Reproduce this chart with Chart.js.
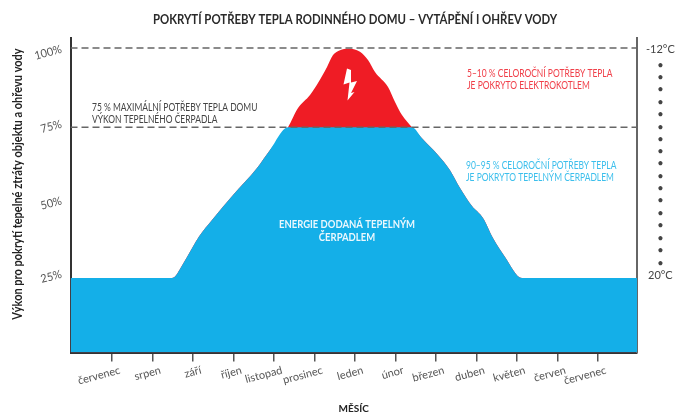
<!DOCTYPE html>
<html><head><meta charset="utf-8">
<style>html,body{margin:0;padding:0;background:#fff}canvas{display:block}</style>
<script src="https://cdn.jsdelivr.net/npm/chart.js@4"></script>
</head><body><canvas id="c" width="685" height="412"></canvas>
<script>
const months = ["červenec","srpen","září","říjen","listopad","prosinec","leden","únor","březen","duben","květen","červen","červenec"];
const yTickValues = [25.8, 49.9, 75.1, 99.7];
const yTickLabels = ["25%","50%","75%","100%"];
const tempTicks = [-12,-9.7,-8,-6.3,-4.5,-2.8,-1,0.7,2.5,4.2,6,7.7,9.4,11.2,12.9,14.7,16.4,18.2,20];
const tempLabels = ["-12°C","•","•","•","•","•","•","•","•","•","•","•","•","•","•","•","•","•","20°C"];
const curveX = [-1.025,1.457,1.556,1.679,1.852,2.148,2.469,2.988,3.580,3.901,4.346,4.593,4.889,5.086,5.309,5.457,5.630,5.827,6.123,6.321,6.494,6.815,6.988,7.160,7.407,7.654,8.049,8.346,8.593,8.889,9.160,9.407,9.704,10.123,12.963];
const demand = [24.47,24.47,24.96,27.42,31.36,38.1,43.5,51.7,60.6,66.5,74,80.3,84.6,88.5,93.8,97.7,99.3,99.8,98.8,96.06,92.1,87.2,82.3,78,74,70.4,64.9,59.9,54,48.1,44.2,37.6,31.4,24.47,24.47];
const heatPumpLimit = 74;
const maxLine = 100;
const xMin = -1.025, xMax = 12.963;

const demandPts = curveX.map((x,i)=>({x,y:demand[i]}));
const pumpPts = curveX.map((x,i)=>({x,y:demand[i]})).filter(p=>p.y<=heatPumpLimit);
const FONT = 'Lato, "Open Sans", sans-serif';

const annot = {
  id:'annot',
  afterDatasetsDraw(chart){
    const c = chart.ctx;
    c.save();
    c.textBaseline='middle';
    const T=(s,x,y,col,font,al,sx)=>{c.save();c.translate(x,y);c.scale(sx,1);c.fillStyle=col;c.font=font+' '+FONT;c.textAlign=al;c.fillText(s,0,0);c.restore();};
    T("POKRYTÍ POTŘEBY TEPLA RODINNÉHO DOMU – VYTÁPĚNÍ I OHŘEV VODY",355,19.5,'#2a2a2a','bold 13px','center',0.877);
    T("75 % MAXIMÁLNÍ POTŘEBY TEPLA DOMU",92,107.5,'#444','11px','left',0.77);
    T("VÝKON TEPELNÉHO ČERPADLA",92,119.5,'#444','11px','left',0.77);
    T("5–10 % CELOROČNÍ POTŘEBY TEPLA",467,73.5,'#f0404a','11px','left',0.77);
    T("JE POKRYTO ELEKTROKOTLEM",467,85.5,'#f0404a','11px','left',0.77);
    T("90–95 % CELOROČNÍ POTŘEBY TEPLA",466,165.5,'#3cbfec','11px','left',0.77);
    T("JE POKRYTO TEPELNÝM ČERPADLEM",466,177.5,'#3cbfec','11px','left',0.77);
    T("ENERGIE DODANÁ TEPELNÝM",347,224,'#eaf7fd','bold 12px','center',0.79);
    T("ČERPADLEM",347,237,'#eaf7fd','bold 12px','center',0.79);
    c.save();
    c.translate(18,184);c.rotate(-Math.PI/2);
    T("Výkon pro pokrytí tepelné ztráty objektu a ohřevu vody",0,0,'#222','bold 12.5px','center',0.88);
    c.restore();
    // rotated percentage labels, placed through the y scale
    const ys = chart.scales.y;
    yTickValues.forEach((v,i)=>{
      c.save();
      c.translate(61.5,ys.getPixelForValue(v));
      c.rotate(-15*Math.PI/180);
      T(yTickLabels[i],0,0,'#555','11.5px','right',0.95);
      c.restore();
    });
    // lightning glyph
    c.fillStyle='#fff';c.beginPath();
    [[347,68.5],[343.5,84.5],[349.5,82.5],[347.5,100.5],[354.5,92],[351,93],[357,81],[351,82.5],[351,70]].forEach((p,i)=>i?c.lineTo(p[0],p[1]):c.moveTo(p[0],p[1]));
    c.closePath();c.fill();
    c.restore();
  }
};

new Chart(document.getElementById('c'),{
  type:'line',
  plugins:[annot],
  data:{datasets:[
    {data:[{x:xMin,y:maxLine},{x:xMax,y:maxLine}],borderColor:'#666',borderWidth:1.5,borderDash:[7,4],pointRadius:0,fill:false,order:0},
    {data:[{x:xMin,y:heatPumpLimit},{x:xMax,y:heatPumpLimit}],borderColor:'#666',borderWidth:1.5,borderDash:[7,4],pointRadius:0,fill:false,order:0},
    {data:pumpPts,borderWidth:0,backgroundColor:'#14afe8',pointRadius:0,fill:'origin',cubicInterpolationMode:'monotone',order:1},
    {data:demandPts,borderWidth:0,backgroundColor:'#ef1c25',pointRadius:0,fill:'origin',cubicInterpolationMode:'monotone',order:2}
  ]},
  options:{
    responsive:false,animation:false,devicePixelRatio:1,
    layout:{padding:{left:26,top:38,right:0,bottom:0}},
    plugins:{legend:{display:false},tooltip:{enabled:false},title:{display:false}},
    scales:{
      x:{type:'linear',min:xMin,max:xMax,
        afterBuildTicks:s=>{s.ticks=months.map((m,i)=>({value:i}));},
        afterFit:s=>{s.height=59.5;},
        border:{color:'#333',width:2},
        grid:{drawOnChartArea:false,drawTicks:true,tickLength:9,color:'#555',lineWidth:1.5},
        ticks:{autoSkip:false,minRotation:15,maxRotation:15,labelOffset:8,padding:2,color:'#555',font:{family:FONT,size:11},callback:(v,i)=>months[i]},
        title:{display:true,text:"MĚSÍC",color:'#222',font:{family:FONT,size:10,weight:'bold'},padding:{top:0,bottom:-3}}
      },
      y:{type:'linear',min:0,max:103.3,
        afterBuildTicks:s=>{s.ticks=yTickValues.map(v=>({value:v}));},
        afterFit:s=>{s.width=44.5;},
        border:{color:'#333',width:2},
        grid:{display:false},
        ticks:{display:false}
      },
      t:{type:'linear',position:'right',reverse:true,min:-13.55,max:30.8,
        afterBuildTicks:s=>{s.ticks=tempTicks.map(v=>({value:v}));},
        afterFit:s=>{s.width=48;},
        border:{color:'#666',width:2},
        grid:{display:false},
        ticks:{autoSkip:false,crossAlign:'center',padding:1,color:'#444',font:{family:FONT,size:11},callback:(v,i)=>tempLabels[i]}
      }
    }
  }
});
</script></body></html>
